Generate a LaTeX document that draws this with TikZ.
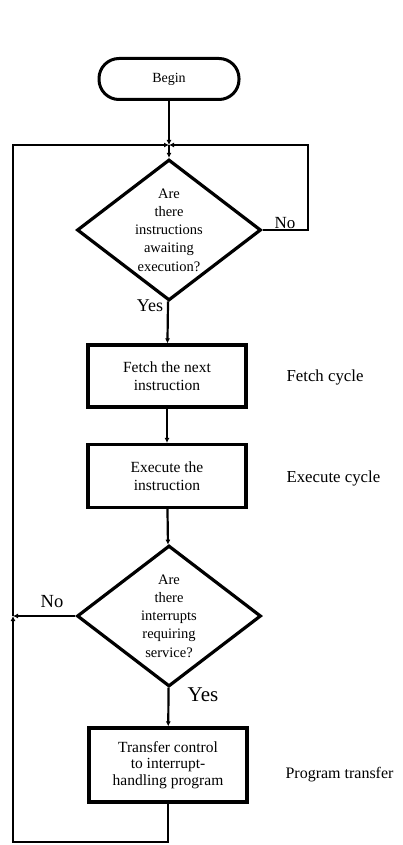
\documentclass[tikz,border=0pt]{standalone}
\usepackage{fontspec}
\setmainfont{Liberation Serif}
\usetikzlibrary{shapes.geometric, arrows.meta, positioning, calc}

\begin{document}
\begin{tikzpicture}[
    x=1pt, y=-1pt,
    flow/.style={line width=2.2pt, -{Latex[length=5pt, width=5pt]}},
    terminal/.style={draw, line width=3pt, rectangle, rounded corners=20pt, minimum width=140pt, minimum height=41pt, font=\fontsize{14}{16}\selectfont},
    process/.style={draw, line width=3.2pt, rectangle, minimum width=158pt, align=center, inner sep=0pt, font=\fontsize{15.5}{18}\selectfont},
    decision/.style={draw, line width=3.2pt, diamond, aspect=1.3, minimum width=184pt, minimum height=141pt, inner sep=0pt, align=center, font=\fontsize{14.5}{18.3}\selectfont},
    side label/.style={anchor=west, font=\fontsize{16.8}{18}\selectfont},
    branch/.style={font=\fontsize{17}{18}\selectfont}
]
\useasboundingbox (0,0) rectangle (402,845);

% Nodes
\node[terminal] (begin) at (169,79) {Begin};
\node[decision] (d1) at (169,230) {Are\\there\\instructions\\awaiting\\execution?};
\node[process, minimum height=62pt] (fetch) at (167,376) {Fetch the next\\instruction};
\node[process, minimum height=63pt] (exec) at (167,476) {Execute the\\instruction};
\node[decision] (d2) at (169,616) {Are\\there\\interrupts\\requiring\\service?};
\node[process, minimum height=74pt, font=\fontsize{15.5}{16.7}\selectfont] (xfer) at (168,765)
    {Transfer control\\to interrupt-\\handling program};

% Loop corners
\coordinate (J) at (169,145);
\coordinate (loopR) at (308,145);
\coordinate (loopL) at (13,145);
\coordinate (noL) at (13,616);
\coordinate (loopB) at (13,842);

% Side and branch labels
\node[side label] (fetchlbl) at (283,377) {Fetch cycle};
\node[side label] (execlbl) at (283,478) {Execute cycle};
\node[side label, font=\fontsize{16}{18}\selectfont] (xferlbl) at (282,775) {Program transfer};
\node[branch] (no1) at (285,223) {No};
\node[branch, font=\fontsize{18}{20}\selectfont] (yes1) at (150,306) {Yes};
\node[branch, font=\fontsize{18.5}{20}\selectfont] (no2) at (52,602) {No};
\node[branch, font=\fontsize{21}{22}\selectfont] (yes2) at (203,695) {Yes};

% Connectors
\draw[flow] (begin) -- (J);
\draw[flow] (J) -- (d1);
\draw[flow] (d1.east) -| (loopR) -- (J);
\draw[flow] (d1) -- (fetch);
\draw[flow] (fetch) -- (exec);
\draw[flow] (exec) -- (d2);
\draw[flow] (d2) -- (xfer);
\draw[flow] (d2.west) -- (noL);
\draw[flow] (xfer) |- (loopB) -- (noL);
\draw[flow] (noL) -- (loopL) -- (J);

\end{tikzpicture}
\end{document}
